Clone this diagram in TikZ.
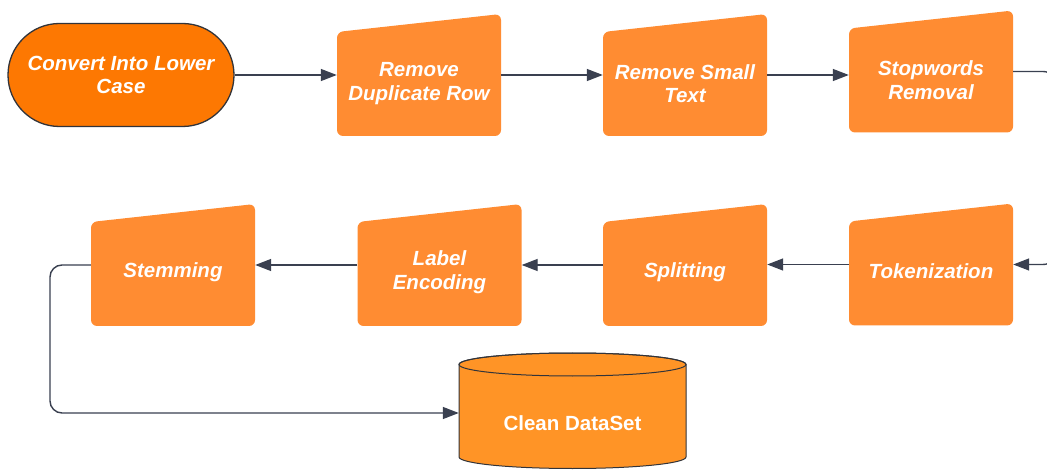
\documentclass[tikz,border=0pt]{standalone}
\usepackage{fontspec}
\setmainfont{Liberation Sans}
\usetikzlibrary{arrows.meta,shapes.misc}

\definecolor{pillfill}{RGB}{253,120,2}
\definecolor{boxfill}{RGB}{255,140,50}
\definecolor{dbfill}{RGB}{255,148,38}
\definecolor{edge}{RGB}{50,52,58}
\definecolor{wire}{RGB}{58,64,80}

\tikzset{
  txt/.style={font=\bfseries\itshape\fontsize{20.5}{23.5}\selectfont, text=white, align=center, inner sep=0pt},
  pill/.style={rounded rectangle, draw=edge, line width=1.3pt, fill=pillfill,
    minimum width=226pt, minimum height=103pt, inner sep=0pt, txt},
  stepbox/.style={rectangle, minimum width=164pt, minimum height=122pt, inner sep=0pt,
    path picture={\fill[boxfill, rounded corners=6pt]
      (path picture bounding box.south west)
      -- ([yshift=-18pt]path picture bounding box.north west)
      -- (path picture bounding box.north east)
      -- (path picture bounding box.south east) -- cycle;}},
  flow/.style={draw=wire, line width=1.4pt, -{Triangle[length=16pt,width=12pt]}},
}

\begin{document}
\begin{tikzpicture}[x=1pt, y=-1pt]
  \useasboundingbox (0,0) rectangle (1047,470);
  \clip (0,0) rectangle (1047,470);
  \fill[white] (0,0) rectangle (1047,470);

  % start of the pipeline
  \node[pill] (lower) at (121,75) {Convert Into Lower\\Case};

  % first row of steps
  \node[stepbox] (dup)   at (419,75)   {};
  \node[stepbox] (small) at (685,75)   {};
  \node[stepbox] (stop)  at (931,71.5) {};

  % second row of steps
  \node[stepbox] (tok)   at (931,264.5) {};
  \node[stepbox] (split) at (685,265)   {};
  \node[stepbox] (enc)   at (439.5,265) {};
  \node[stepbox] (stem)  at (173,265)   {};

  % step captions, set a little below each box centre
  \node[txt] (dup-t)   at ([yshift=-8.5pt]dup.center)   {Remove\\Duplicate Row};
  \node[txt] (small-t) at ([yshift=-8.5pt]small.center) {Remove Small\\Text};
  \node[txt] (stop-t)  at ([yshift=-8.5pt]stop.center)  {Stopwords\\Removal};
  \node[txt] (tok-t)   at ([yshift=-7pt]tok.center)     {Tokenization};
  \node[txt] (split-t) at ([yshift=-7pt]split.center)   {Splitting};
  \node[txt] (enc-t)   at ([yshift=-7pt]enc.center)     {Label\\Encoding};
  \node[txt] (stem-t)  at ([yshift=-7pt]stem.center)    {Stemming};

  % output data store
  \node[rectangle, minimum width=227pt, minimum height=114pt, inner sep=0pt] (db) at (572.5,413) {};
  \filldraw[fill=dbfill, draw=edge, line width=1pt]
    (459,364.5) -- (459,457)
    arc[start angle=180, end angle=360, x radius=113.5pt, y radius=11.5pt]
    -- (686,364.5)
    arc[start angle=0, end angle=180, x radius=113.5pt, y radius=11.5pt] -- cycle;
  \draw[edge, line width=1pt] (572.5,364.5) ellipse [x radius=113.5pt, y radius=11.5pt];
  \node[txt, font=\bfseries\fontsize{20.5}{23.5}\selectfont] (db-t) at (572.5,423) {Clean DataSet};

  % connectors
  \draw[flow] (lower.east) -- (dup.west);
  \draw[flow] (dup.east) -- (small.west);
  \draw[flow] (small.east) -- (stop.west |- small.east);
  \draw[flow, rounded corners=14pt] (stop.east) -- (1057,71.5) -- (1057,264.5) -- (tok.east);
  \draw[flow] (tok.west) -- (split.east |- tok.west);
  \draw[flow] (split.west) -- (enc.east);
  \draw[flow] (enc.west) -- (stem.east);
  \draw[flow, rounded corners=12pt] (stem.west) -- (50,265) -- (50,413) -- (db.west);
\end{tikzpicture}
\end{document}
